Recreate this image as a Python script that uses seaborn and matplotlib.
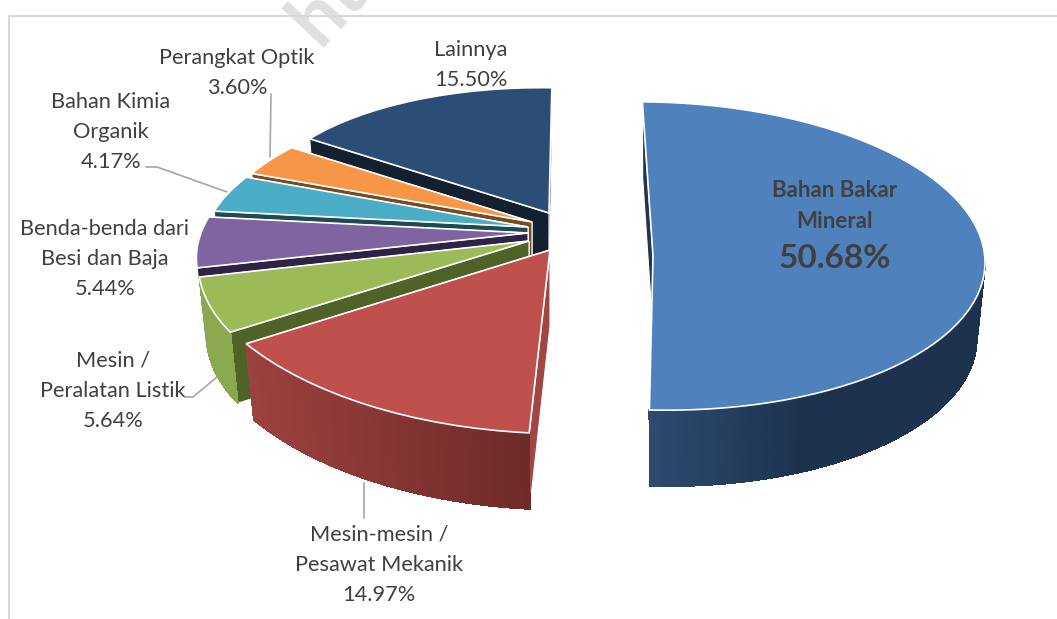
import numpy as np
import matplotlib
matplotlib.use('Agg')
import matplotlib.pyplot as plt
from matplotlib.collections import PolyCollection
from matplotlib.colors import to_rgb
from matplotlib.patches import Polygon
from matplotlib.transforms import Affine2D
import seaborn as sns

sns.set_theme(style='white')
plt.rcParams['font.family'] = ['Lato', 'DejaVu Sans']

# Data
sectors = ['Bahan Bakar\nMineral', 'Mesin-mesin /\nPesawat Mekanik', 'Mesin /\nPeralatan Listik',
           'Benda-benda dari\nBesi dan Baja', 'Bahan Kimia\nOrganik', 'Perangkat Optik', 'Lainnya']
shares = [50.68, 14.97, 5.64, 5.44, 4.17, 3.60, 15.50]

# Colours: top, radial face, wall left, wall right
top_colors = ['#4f81bd', '#c0504d', '#9bbb59', '#8064a2', '#4bacc6', '#f79646', '#2c4d75']
face_colors = ['#1f3550', '#a04643', '#4f6228', '#2e2344', '#1d4a55', '#7a4a20', '#12202f']
wall_left = ['#2d4b70', '#9c423f', '#8aa84f']
wall_right = ['#1d324e', '#6e2a29', '#8aa84f']

# Where each slice sits on the page (pixels) and how the unit circle is squashed for the tilted view
tip_x = [653, 550, 529, 528, 528, 532, 549]
tip_y = [256, 250, 241, 233, 227, 222, 213]
squash = [(332, 1, 7, -154), (361, 18, 16, -183), (326, 58, 9, -169), (325, 66, 5, -150),
          (319, 59, 6, -134), (313, 46, 6, -130), (291, 13, 9, -125)]
paint_order = [6, 5, 4, 3, 2, 1, 0]
depth = [76, 76, 71, 75, 75, 75, 75]
taper = 0.975

fig = plt.figure(figsize=(10.57, 6.19), dpi=100)
ax = fig.add_axes([0, 0, 1, 1])

wedges, _ = ax.pie(shares, colors=sns.color_palette(top_colors), startangle=92, counterclock=False,
                   wedgeprops={'edgecolor': 'white', 'linewidth': 1.2})
ax.set_aspect('auto')
ax.set_xlim(0, 1057)
ax.set_ylim(619, 0)
ax.axis('off')


def rim(i, theta, drop=0):
    t = np.radians(theta)
    a, b, c, d = squash[i]
    dx = a * np.cos(t) + b * np.sin(t)
    dy = c * np.cos(t) + d * np.sin(t)
    return (tip_x[i] + (taper * dx if drop else dx), tip_y[i] + dy + drop)


for i, w in enumerate(wedges):
    z = 10 + 3 * paint_order[i]
    a, b, c, d = squash[i]
    w.set_transform(Affine2D(np.array([[a, b, tip_x[i]], [c, d, tip_y[i]], [0, 0, 1]])) + ax.transData)
    w.set_zorder(z + 2)

    # radial faces
    for theta in (w.theta1, w.theta2):
        pts = [(tip_x[i], tip_y[i]), rim(i, theta), rim(i, theta, depth[i]), (tip_x[i], tip_y[i] + depth[i])]
        ax.add_patch(Polygon(pts, closed=True, facecolor=face_colors[i], edgecolor='white',
                             linewidth=0.8, zorder=z))

    # outer wall, only the part turned to the viewer
    if i < 3:
        lo, hi = (w.theta1, min(w.theta2, 0)) if w.theta1 < 0 else (max(w.theta1, 180), min(w.theta2, 360))
        steps = np.linspace(lo, hi, int(abs(hi - lo)) + 2)
        quads, cols = [], []
        x0, x1 = rim(i, steps[0])[0], rim(i, steps[-1])[0]
        xl, xr = min(x0, x1), max(x0, x1)
        c0, c1 = np.array(to_rgb(wall_left[i])), np.array(to_rgb(wall_right[i]))
        for p, q in zip(steps[:-1], steps[1:]):
            quads.append([rim(i, p), rim(i, q), rim(i, q, depth[i]), rim(i, p, depth[i])])
            f = (rim(i, p)[0] - xl) / (xr - xl)
            f = min(f / 0.45, 1) if i == 0 else f
            cols.append(c0 + (c1 - c0) * f)
        # soft outline under the bands keeps the lower edge smooth
        outline = [rim(i, s) for s in steps] + [rim(i, s, depth[i]) for s in steps[::-1]]
        ax.add_patch(Polygon(outline, closed=True, facecolor=cols[len(cols) // 2], edgecolor=cols[len(cols) // 2],
                             linewidth=0.6, zorder=z + 1))
        ax.add_collection(PolyCollection(quads, facecolors=cols, edgecolors=cols, linewidths=0.6,
                                         antialiaseds=False, zorder=z + 1))

# Labels
text_color = '#404040'
label_pos = [(835, 206), (379, 565), (113, 391), (105, 259), (111, 132), (237, 73), (471, 65)]
label_size = 15.7
for i, (name, share) in enumerate(zip(sectors, shares)):
    if i == 0:
        ax.text(label_pos[i][0], label_pos[i][1], name, ha='center', va='center', fontsize=16, fontweight='bold',
                color=text_color, linespacing=1.6, zorder=60)
        ax.text(label_pos[i][0], 259, f'{share:.2f}%', ha='center', va='center', fontsize=24, fontweight='bold',
                color=text_color, zorder=60)
    else:
        ax.text(label_pos[i][0], label_pos[i][1], f'{name}\n{share:.2f}%', ha='center', va='center',
                fontsize=label_size, color=text_color, linespacing=1.65, zorder=60)

# Leader lines
leader = '#a6a6a6'
ax.plot([271, 270], [94, 157], color=leader, lw=1.2, zorder=5)
ax.plot([146, 157, 227], [167, 167, 192], color=leader, lw=1.2, zorder=5)
ax.plot([185, 193, 217], [397, 397, 377], color=leader, lw=1.2, zorder=5)
ax.plot([364, 364], [483, 518], color=leader, lw=1.2, zorder=5)

# Chart frame and the page watermark
ax.text(328, 6, 'ht', rotation=47, ha='center', va='center', fontsize=56, fontweight='bold',
        color='#e0e0e0', zorder=1)
ax.plot([9, 9, 1057], [619, 16, 16], color='#d9d9d9', lw=1.5, zorder=2)

fig.savefig('out.png', dpi=100, facecolor='white')
